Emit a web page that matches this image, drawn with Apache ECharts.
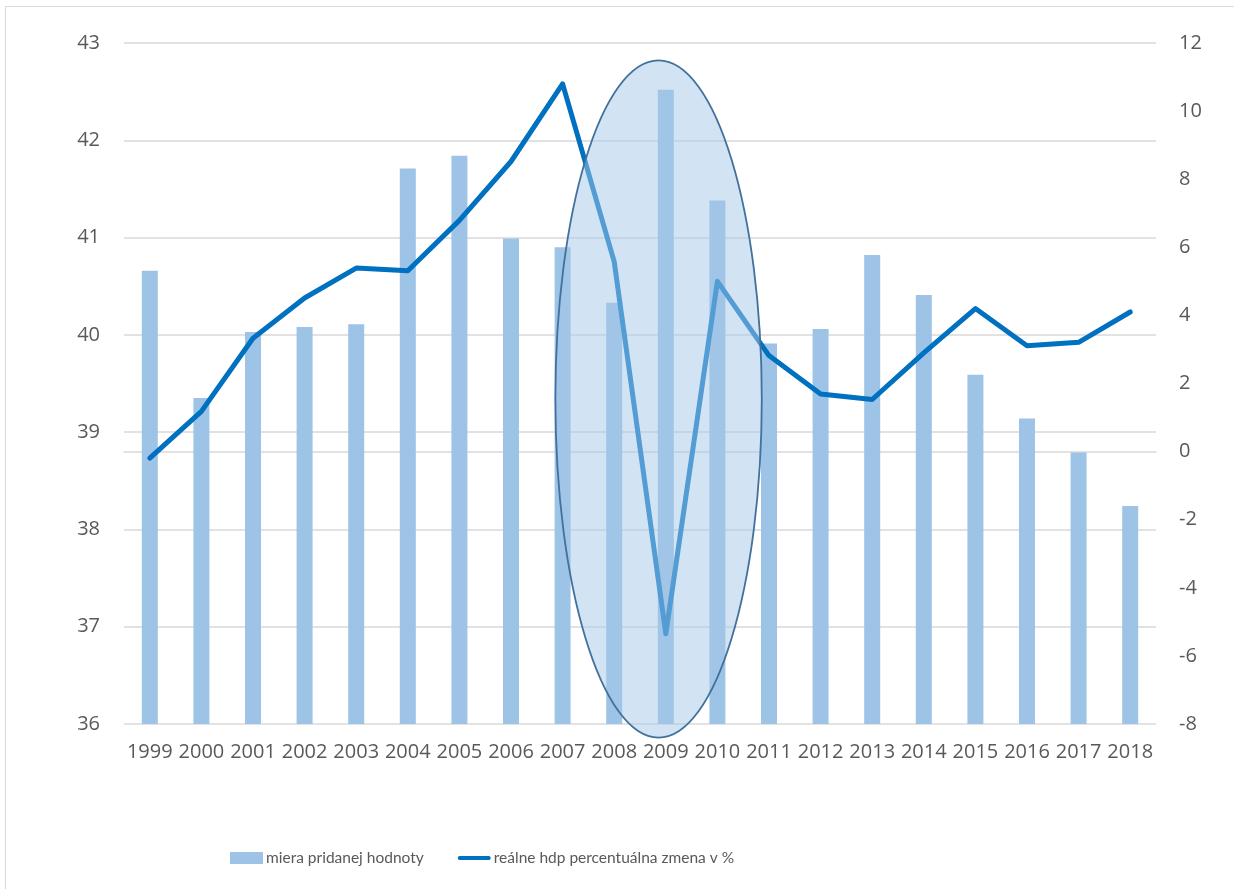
<!DOCTYPE html>
<html>
<head>
<meta charset="utf-8">
<script src="https://cdn.jsdelivr.net/npm/echarts@6/dist/echarts.min.js"></script>
<style>
html,body{margin:0;padding:0;background:#fff;}
#frame{position:absolute;left:5px;top:6px;width:1260px;height:900px;border:1px solid #d9d9d9;box-sizing:border-box;}
#chart{position:absolute;left:0;top:0;width:1234px;height:889px;}
</style>
</head>
<body>
<div id="frame"></div>
<div id="chart"></div>
<script>
const years = ['1999','2000','2001','2002','2003','2004','2005','2006','2007','2008','2009','2010','2011','2012','2013','2014','2015','2016','2017','2018'];
const valueAddedRate = [40.66, 39.35, 40.03, 40.08, 40.11, 41.71, 41.84, 40.99, 40.90, 40.33, 42.52, 41.38, 39.91, 40.06, 40.82, 40.41, 39.59, 39.14, 38.79, 38.24];
const realGdpChange = [-0.19, 1.18, 3.33, 4.51, 5.39, 5.31, 6.79, 8.52, 10.80, 5.58, -5.35, 5.0, 2.82, 1.69, 1.53, 2.9, 4.2, 3.11, 3.21, 4.1];
const seriesNames = ['miera pridanej hodnoty', 'reálne hdp percentuálna zmena v %'];
// highlight ellipse around the 2009 crisis (category index centre, width in categories, right-axis value range)
const highlightCenterIndex = 9.86;
const highlightWidthCats = 4.0;
const highlightTop = 11.49;
const highlightBottom = -8.4;

const chart = echarts.init(document.getElementById('chart'));
const font = 'Open Sans';
chart.setOption({
  animation: false,
  backgroundColor: 'transparent',
  textStyle: { fontFamily: font },
  grid: { left: 124, right: 78, top: 43, bottom: 165 },
  legend: {
    left: 225, top: 845,
    itemWidth: 33, itemHeight: 12, itemGap: 34,
    textStyle: { fontFamily: 'Lato', fontSize: 15.5, color: '#595959', padding: [0,0,0,-2] },
    data: [
      { name: seriesNames[0], icon: 'rect' },
      { name: seriesNames[1], icon: 'path://M2,0 L32,0 A2,2 0 0 1 32,4 L2,4 A2,2 0 0 1 2,0 Z' }
    ]
  },
  xAxis: {
    type: 'category',
    data: years,
    axisLine: { show: true, lineStyle: { color: '#d9d9d9', width: 1.5 } },
    axisTick: { show: false },
    axisLabel: { color: '#595959', fontSize: 20, margin: 18, interval: 0 }
  },
  yAxis: [
    {
      type: 'value', min: 36, max: 43, interval: 1,
      axisLine: { show: false }, axisTick: { show: false },
      axisLabel: { color: '#595959', fontSize: 20, margin: 24 },
      splitLine: { lineStyle: { color: '#d9d9d9', width: 1.5 } }
    },
    {
      type: 'value', min: -8, max: 12, interval: 2,
      axisLine: { show: false }, axisTick: { show: false },
      axisLabel: { color: '#595959', fontSize: 20, margin: 23 },
      splitLine: { show: false }
    }
  ],
  series: [
    {
      name: seriesNames[0], type: 'bar', data: valueAddedRate, yAxisIndex: 0,
      barWidth: 16, itemStyle: { color: '#9dc3e6' }
    },
    {
      name: seriesNames[1], type: 'line', data: realGdpChange, yAxisIndex: 1,
      symbol: 'none', lineStyle: { color: '#0070c0', width: 5, cap: 'round', join: 'round' },
      itemStyle: { color: '#0070c0' }
    }
  ]
});

function drawHighlight() {
  const x0 = chart.convertToPixel({ xAxisIndex: 0 }, 0);
  const x1 = chart.convertToPixel({ xAxisIndex: 0 }, 1);
  const band = x1 - x0;
  const cx = x0 + highlightCenterIndex * band;
  const rx = highlightWidthCats * band / 2;
  const yTop = chart.convertToPixel({ yAxisIndex: 1 }, highlightTop);
  const yBot = chart.convertToPixel({ yAxisIndex: 1 }, highlightBottom);
  chart.setOption({
    graphic: [{
      type: 'ellipse', z: 100,
      shape: { cx: cx, cy: (yTop + yBot) / 2, rx: rx, ry: (yBot - yTop) / 2 },
      style: { fill: 'rgba(165,199,231,0.5)', stroke: '#41719c', lineWidth: 1.8 }
    }]
  });
}
drawHighlight();
</script>
</body>
</html>
